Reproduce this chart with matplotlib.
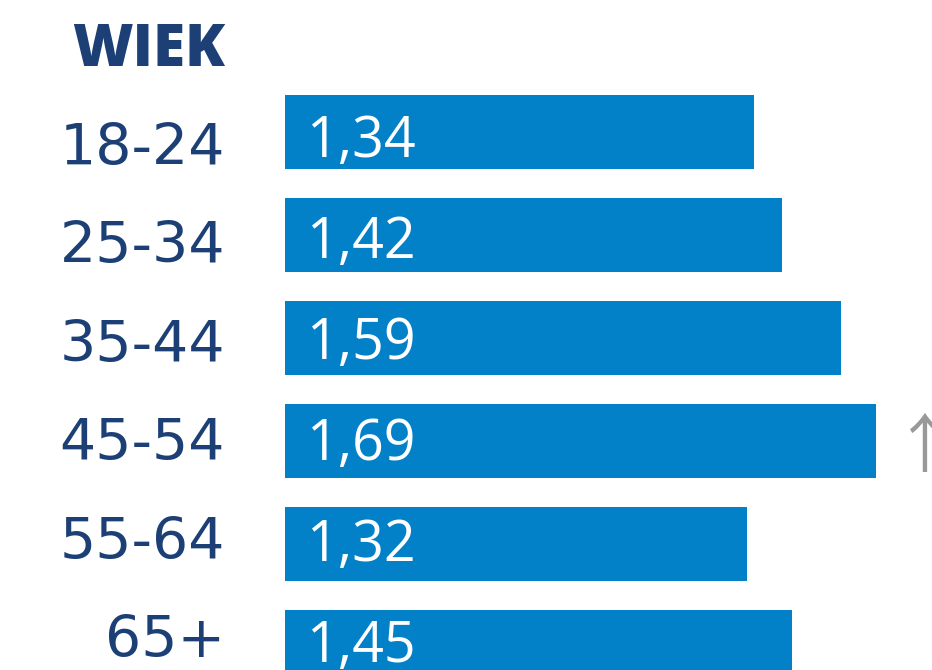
import matplotlib
matplotlib.use('Agg')
import matplotlib.pyplot as plt
import matplotlib.transforms as mtransforms

# Dane
age_groups = ['18-24', '25-34', '35-44', '45-54', '55-64', '65+']
values = [1.34, 1.42, 1.59, 1.69, 1.32, 1.45]
value_labels = ['1,34', '1,42', '1,59', '1,69', '1,32', '1,45']
title = 'WIEK'
trend_marks = ['', '', '', '\u2191', '', '']

BAR_COLOR = '#0281C9'
TEXT_COLOR = '#1C3F75'
ARROW_COLOR = '#999999'

plt.rcParams['font.family'] = ['Open Sans', 'DejaVu Sans']

W, H = 932, 670
fig = plt.figure(figsize=(W / 100, H / 100), dpi=100)

# axes spans from bar origin (x=285px) to the right edge
ax = fig.add_axes([285 / W, 0, 1 - 285 / W, 1])
px_per_unit = 349.7
ax.set_xlim(0, (W - 285) / px_per_unit)
pitch = 103.0
first_center = 132.0
ax.set_ylim((H - first_center) / pitch, -first_center / pitch)

ypos = list(range(len(age_groups)))
ax.barh(ypos, values, height=74 / pitch, color=BAR_COLOR, zorder=2)

# texts sit on a slightly tighter grid than the bars (as in the original layout)
def fig_y(px_from_top):
    return 1 - px_from_top / H

label_tr = mtransforms.blended_transform_factory(fig.transFigure, fig.transFigure)

# wartosci w slupkach
for i, lab in enumerate(value_labels):
    ax.text(306 / W, fig_y(157 + 101 * i), lab, color='white', fontsize=40,
            va='baseline', ha='left', transform=label_tr, zorder=3)

# etykiety grup wiekowych
for i, lab in enumerate(age_groups):
    ax.text(225 / W, fig_y(165 + 98.4 * i), lab, color=TEXT_COLOR,
            fontsize=41, va='baseline', ha='right', transform=label_tr,
            family=['DejaVu Sans'])

for y, v, mark in zip(ypos, values, trend_marks):
    if mark:
        ax.text(v + 49 / px_per_unit, y + 8 / pitch, mark, color=ARROW_COLOR,
                fontsize=46, va='center', ha='center',
                family=['Noto Sans CJK JP', 'DejaVu Sans'])

ax.set_yticks([])
ax.set_xticks([])
for s in ax.spines.values():
    s.set_visible(False)

fig.text(225 / W, fig_y(66), title, fontsize=42, fontweight='heavy',
         color=TEXT_COLOR, ha='right', va='baseline')

fig.savefig('out.png', dpi=100)
